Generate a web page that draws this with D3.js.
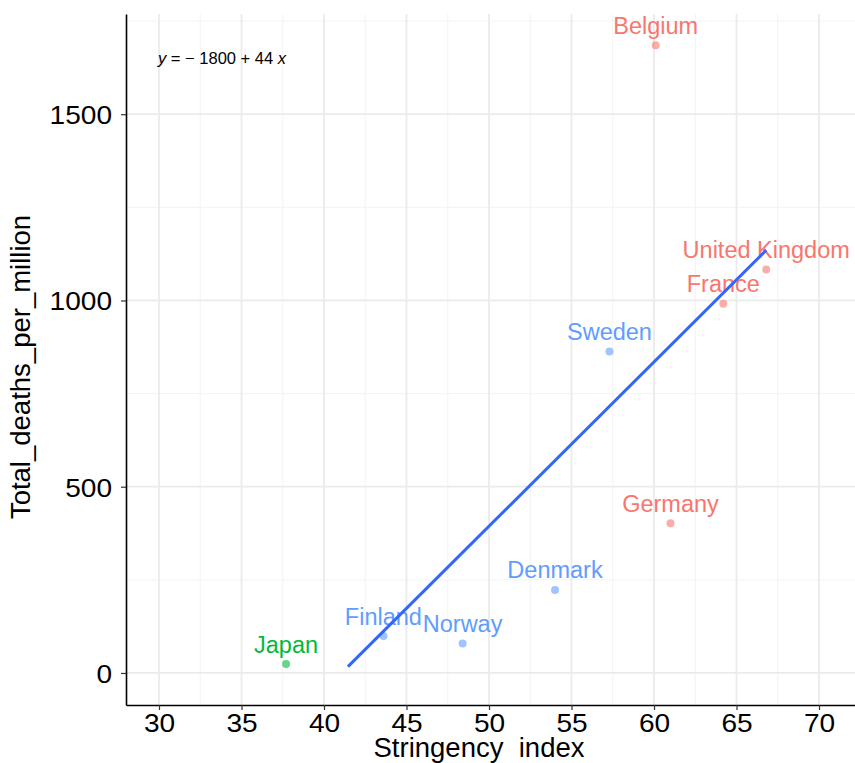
<!DOCTYPE html>
<html>
<head>
<meta charset="utf-8">
<script src="https://cdn.jsdelivr.net/npm/d3@7"></script>
<style>
  body { margin: 0; background: #fff; }
  svg { display: block; font-family: "Liberation Sans", Arial, sans-serif; }
</style>
</head>
<body>
<div id="chart"></div>
<script>
// values
const countries  = ["Belgium", "United Kingdom", "France", "Sweden", "Germany", "Denmark", "Norway", "Finland", "Japan"];
const stringency = [60.1, 66.8, 64.2, 57.3, 61.0, 54.0, 48.4, 43.6, 37.7];
const deaths     = [1685, 1083, 991, 863, 402, 223, 79, 99, 24];
const groups     = ["Europe", "Europe", "Europe", "Nordic", "Europe", "Nordic", "Nordic", "Nordic", "Asia"];

// fitted line (ends as drawn) and its label
const fitX = [41.45, 66.8];
const fitY = [17, 1135];
const intercept = -1800, slope = 44;

const xTicks = [30, 35, 40, 45, 50, 55, 60, 65, 70];
const xMinor = [32.5, 37.5, 42.5, 47.5, 52.5, 57.5, 62.5, 67.5];
const yTicks = [0, 500, 1000, 1500];
const yMinor = [250, 750, 1250, 1750];

const data = countries.map((c, i) => ({ country: c, x: stringency[i], y: deaths[i], group: groups[i] }));

const width = 855, height = 763;
const plot = { left: 126, right: 855, top: 14, bottom: 705 };

const svg = d3.select("#chart").append("svg")
    .attr("width", width).attr("height", height);

const x = d3.scaleLinear().domain([28, 72.18]).range([plot.left, plot.right]);
const y = d3.scaleLinear().domain([-86, 1769]).range([plot.bottom, plot.top]);

const color = d3.scaleOrdinal()
    .domain(["Europe", "Asia", "Nordic"])
    .range(["#F8766D", "#00BA38", "#619CFF"]);

// grid
const grid = svg.append("g");
grid.selectAll(".xminor").data(xMinor).enter().append("line")
    .attr("x1", d => x(d)).attr("x2", d => x(d)).attr("y1", plot.top).attr("y2", plot.bottom)
    .attr("stroke", "#f3f3f3").attr("stroke-width", 1);
grid.selectAll(".yminor").data(yMinor).enter().append("line")
    .attr("x1", plot.left).attr("x2", plot.right).attr("y1", d => y(d)).attr("y2", d => y(d))
    .attr("stroke", "#f3f3f3").attr("stroke-width", 1);
grid.selectAll(".xmajor").data(xTicks).enter().append("line")
    .attr("x1", d => x(d)).attr("x2", d => x(d)).attr("y1", plot.top).attr("y2", plot.bottom)
    .attr("stroke", "#ebebeb").attr("stroke-width", 1.8);
grid.selectAll(".ymajor").data(yTicks).enter().append("line")
    .attr("x1", plot.left).attr("x2", plot.right).attr("y1", d => y(d)).attr("y2", d => y(d))
    .attr("stroke", "#ebebeb").attr("stroke-width", 1.8);

// axes
const xAxis = svg.append("g").attr("transform", `translate(0,${plot.bottom})`)
    .call(d3.axisBottom(x).tickValues(xTicks).tickSize(5).tickPadding(4).tickSizeOuter(0));
const yAxis = svg.append("g").attr("transform", `translate(${plot.left},0)`)
    .call(d3.axisLeft(y).tickValues(yTicks).tickFormat(d3.format("d"))
        .tickSize(5).tickPadding(8).tickSizeOuter(0));

[xAxis, yAxis].forEach(a => {
    a.select(".domain").attr("stroke", "#000").attr("stroke-width", 1.6);
    a.selectAll(".tick line").attr("stroke", "#333").attr("stroke-width", 1.2);
    a.selectAll(".tick text").attr("fill", "#000").style("font-size", "26px")
        .style("font-family", "'Liberation Sans', Arial, sans-serif")
        .attr("transform", "scale(1.08,1)");
});
xAxis.selectAll(".tick text").attr("dy", null).attr("y", 26.7);
yAxis.selectAll(".tick text").attr("dy", null).attr("y", 9.3).attr("x", -14 / 1.08);

// axis titles
svg.append("text")
    .attr("x", 479).attr("y", 757)
    .attr("text-anchor", "middle").style("font-size", "27.5px").attr("fill", "#000")
    .text("Stringency\u00a0\u00a0index");

svg.append("text")
    .attr("transform", "translate(30,367) rotate(-90)")
    .attr("text-anchor", "middle").style("font-size", "27.5px").attr("fill", "#000")
    .text("Total_deaths_per_million");

// equation
const eq = svg.append("text")
    .attr("x", 158).attr("y", 64)
    .style("font-size", "16.5px").attr("fill", "#000")
    .attr("xml:space", "preserve");
eq.append("tspan").style("font-style", "italic").text("y");
eq.append("tspan").text(` = \u2212 ${Math.abs(intercept)} + ${slope} `);
eq.append("tspan").style("font-style", "italic").text("x");

// points
svg.append("g").selectAll("circle")
    .data(data).enter().append("circle")
    .attr("cx", d => x(d.x)).attr("cy", d => y(d.y))
    .attr("r", 4)
    .attr("fill", d => color(d.group))
    .attr("fill-opacity", 0.6);

// labels
svg.append("g").selectAll("text")
    .data(data).enter().append("text")
    .attr("x", d => x(d.x)).attr("y", d => y(d.y) - 11.5)
    .attr("text-anchor", "middle")
    .style("font-size", "23.5px")
    .attr("fill", d => color(d.group))
    .text(d => d.country);

// fitted line
svg.append("line")
    .attr("x1", x(fitX[0])).attr("y1", y(fitY[0]))
    .attr("x2", x(fitX[1])).attr("y2", y(fitY[1]))
    .attr("stroke", "#3366FF").attr("stroke-width", 3);
</script>
</body>
</html>
